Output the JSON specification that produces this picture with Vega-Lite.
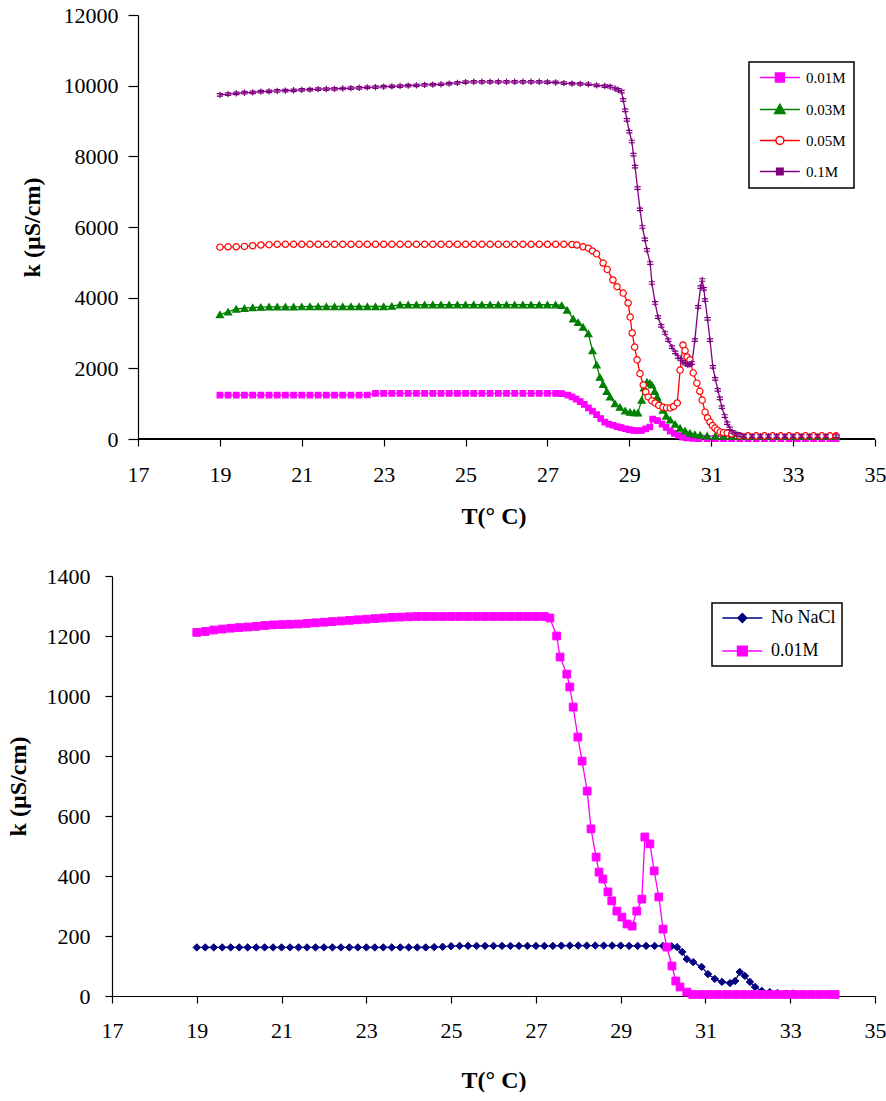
{
"$schema": "https://vega.github.io/schema/vega-lite/v6.json",
"padding": {"left": 6, "top": 4, "right": 0, "bottom": 0},
"spacing": 37,
"config": {
  "font": "Liberation Serif",
  "view": {"stroke": null},
  "axis": {"grid": false, "domainColor": "black", "tickColor": "black", "labelColor": "black", "titleColor": "black", "domainWidth": 1.2, "tickWidth": 1.2, "labelFont": "Liberation Serif", "labelFontSize": 22, "titleFont": "Liberation Serif", "titleFontSize": 24, "titleFontWeight": "bold", "labelFlush": false, "labelOverlap": false},
  "legend": {"labelFont": "Liberation Serif", "labelColor": "black"}
},
"resolve": {"scale": {"color": "independent"}, "legend": {"color": "independent"}},
"datasets": {
"top": [
{"s":"0.01M","T":19,"k":1240},{"s":"0.01M","T":19.2,"k":1240},{"s":"0.01M","T":19.4,"k":1240},{"s":"0.01M","T":19.6,"k":1240},{"s":"0.01M","T":19.8,"k":1240},{"s":"0.01M","T":20,"k":1240},{"s":"0.01M","T":20.2,"k":1240},{"s":"0.01M","T":20.4,"k":1240},{"s":"0.01M","T":20.6,"k":1240},{"s":"0.01M","T":20.8,"k":1240},{"s":"0.01M","T":21,"k":1240},{"s":"0.01M","T":21.2,"k":1240},{"s":"0.01M","T":21.4,"k":1240},{"s":"0.01M","T":21.6,"k":1240},{"s":"0.01M","T":21.8,"k":1240},{"s":"0.01M","T":22,"k":1240},{"s":"0.01M","T":22.2,"k":1240},{"s":"0.01M","T":22.4,"k":1240},{"s":"0.01M","T":22.6,"k":1245},{"s":"0.01M","T":22.8,"k":1290},{"s":"0.01M","T":23,"k":1290},{"s":"0.01M","T":23.2,"k":1290},{"s":"0.01M","T":23.4,"k":1290},{"s":"0.01M","T":23.6,"k":1290},{"s":"0.01M","T":23.8,"k":1290},{"s":"0.01M","T":24,"k":1290},{"s":"0.01M","T":24.2,"k":1290},{"s":"0.01M","T":24.4,"k":1290},{"s":"0.01M","T":24.6,"k":1290},{"s":"0.01M","T":24.8,"k":1290},{"s":"0.01M","T":25,"k":1290},{"s":"0.01M","T":25.2,"k":1290},{"s":"0.01M","T":25.4,"k":1290},{"s":"0.01M","T":25.6,"k":1290},{"s":"0.01M","T":25.8,"k":1290},{"s":"0.01M","T":26,"k":1290},{"s":"0.01M","T":26.2,"k":1290},{"s":"0.01M","T":26.4,"k":1290},{"s":"0.01M","T":26.6,"k":1290},{"s":"0.01M","T":26.8,"k":1290},{"s":"0.01M","T":27,"k":1290},{"s":"0.01M","T":27.2,"k":1290},{"s":"0.01M","T":27.35,"k":1285},{"s":"0.01M","T":27.5,"k":1240},{"s":"0.01M","T":27.6,"k":1190},{"s":"0.01M","T":27.7,"k":1130},{"s":"0.01M","T":27.8,"k":1060},{"s":"0.01M","T":27.9,"k":980},{"s":"0.01M","T":28,"k":880},{"s":"0.01M","T":28.1,"k":790},{"s":"0.01M","T":28.2,"k":690},{"s":"0.01M","T":28.3,"k":580},{"s":"0.01M","T":28.4,"k":480},{"s":"0.01M","T":28.5,"k":420},{"s":"0.01M","T":28.6,"k":390},{"s":"0.01M","T":28.7,"k":350},{"s":"0.01M","T":28.8,"k":320},{"s":"0.01M","T":28.9,"k":290},{"s":"0.01M","T":29,"k":265},{"s":"0.01M","T":29.1,"k":245},{"s":"0.01M","T":29.2,"k":235},{"s":"0.01M","T":29.3,"k":240},{"s":"0.01M","T":29.4,"k":290},{"s":"0.01M","T":29.5,"k":340},{"s":"0.01M","T":29.57,"k":560},{"s":"0.01M","T":29.69,"k":520},{"s":"0.01M","T":29.8,"k":420},{"s":"0.01M","T":29.9,"k":330},{"s":"0.01M","T":30,"k":225},{"s":"0.01M","T":30.1,"k":160},{"s":"0.01M","T":30.2,"k":100},{"s":"0.01M","T":30.3,"k":55},{"s":"0.01M","T":30.4,"k":30},{"s":"0.01M","T":30.55,"k":15},{"s":"0.01M","T":30.7,"k":10},{"s":"0.01M","T":30.9,"k":10},{"s":"0.01M","T":31.1,"k":10},{"s":"0.01M","T":31.3,"k":10},{"s":"0.01M","T":31.5,"k":10},{"s":"0.01M","T":31.7,"k":10},{"s":"0.01M","T":31.9,"k":10},{"s":"0.01M","T":32.1,"k":10},{"s":"0.01M","T":32.3,"k":10},{"s":"0.01M","T":32.5,"k":10},{"s":"0.01M","T":32.7,"k":10},{"s":"0.01M","T":32.9,"k":10},{"s":"0.01M","T":33.1,"k":10},{"s":"0.01M","T":33.3,"k":10},{"s":"0.01M","T":33.5,"k":10},{"s":"0.01M","T":33.7,"k":10},{"s":"0.01M","T":33.9,"k":10},{"s":"0.01M","T":34.05,"k":10},
{"s":"0.03M","T":19,"k":3520},{"s":"0.03M","T":19.2,"k":3600},{"s":"0.03M","T":19.4,"k":3680},{"s":"0.03M","T":19.6,"k":3700},{"s":"0.03M","T":19.8,"k":3720},{"s":"0.03M","T":20,"k":3730},{"s":"0.03M","T":20.2,"k":3740},{"s":"0.03M","T":20.4,"k":3740},{"s":"0.03M","T":20.6,"k":3740},{"s":"0.03M","T":20.8,"k":3740},{"s":"0.03M","T":21,"k":3745},{"s":"0.03M","T":21.2,"k":3750},{"s":"0.03M","T":21.4,"k":3750},{"s":"0.03M","T":21.6,"k":3750},{"s":"0.03M","T":21.8,"k":3750},{"s":"0.03M","T":22,"k":3750},{"s":"0.03M","T":22.2,"k":3750},{"s":"0.03M","T":22.4,"k":3750},{"s":"0.03M","T":22.6,"k":3750},{"s":"0.03M","T":22.8,"k":3750},{"s":"0.03M","T":23,"k":3750},{"s":"0.03M","T":23.2,"k":3760},{"s":"0.03M","T":23.4,"k":3800},{"s":"0.03M","T":23.6,"k":3800},{"s":"0.03M","T":23.8,"k":3800},{"s":"0.03M","T":24,"k":3800},{"s":"0.03M","T":24.2,"k":3800},{"s":"0.03M","T":24.4,"k":3800},{"s":"0.03M","T":24.6,"k":3800},{"s":"0.03M","T":24.8,"k":3800},{"s":"0.03M","T":25,"k":3800},{"s":"0.03M","T":25.2,"k":3800},{"s":"0.03M","T":25.4,"k":3800},{"s":"0.03M","T":25.6,"k":3800},{"s":"0.03M","T":25.8,"k":3800},{"s":"0.03M","T":26,"k":3800},{"s":"0.03M","T":26.2,"k":3800},{"s":"0.03M","T":26.4,"k":3800},{"s":"0.03M","T":26.6,"k":3800},{"s":"0.03M","T":26.8,"k":3800},{"s":"0.03M","T":27,"k":3800},{"s":"0.03M","T":27.2,"k":3800},{"s":"0.03M","T":27.35,"k":3780},{"s":"0.03M","T":27.48,"k":3650},{"s":"0.03M","T":27.63,"k":3400},{"s":"0.03M","T":27.75,"k":3300},{"s":"0.03M","T":27.87,"k":3170},{"s":"0.03M","T":28,"k":2980},{"s":"0.03M","T":28.1,"k":2500},{"s":"0.03M","T":28.2,"k":2100},{"s":"0.03M","T":28.28,"k":1750},{"s":"0.03M","T":28.36,"k":1550},{"s":"0.03M","T":28.45,"k":1350},{"s":"0.03M","T":28.53,"k":1190},{"s":"0.03M","T":28.65,"k":1000},{"s":"0.03M","T":28.77,"k":900},{"s":"0.03M","T":28.9,"k":800},{"s":"0.03M","T":29.02,"k":760},{"s":"0.03M","T":29.12,"k":750},{"s":"0.03M","T":29.21,"k":740},{"s":"0.03M","T":29.3,"k":1100},{"s":"0.03M","T":29.36,"k":1450},{"s":"0.03M","T":29.43,"k":1610},{"s":"0.03M","T":29.5,"k":1580},{"s":"0.03M","T":29.55,"k":1530},{"s":"0.03M","T":29.62,"k":1350},{"s":"0.03M","T":29.68,"k":1190},{"s":"0.03M","T":29.75,"k":1000},{"s":"0.03M","T":29.82,"k":820},{"s":"0.03M","T":29.9,"k":650},{"s":"0.03M","T":30,"k":540},{"s":"0.03M","T":30.12,"k":420},{"s":"0.03M","T":30.24,"k":310},{"s":"0.03M","T":30.36,"k":230},{"s":"0.03M","T":30.48,"k":170},{"s":"0.03M","T":30.6,"k":130},{"s":"0.03M","T":30.73,"k":110},{"s":"0.03M","T":30.9,"k":90},{"s":"0.03M","T":31.1,"k":80},{"s":"0.03M","T":31.3,"k":80},{"s":"0.03M","T":31.5,"k":80},{"s":"0.03M","T":31.7,"k":80},{"s":"0.03M","T":31.9,"k":80},{"s":"0.03M","T":32.1,"k":80},{"s":"0.03M","T":32.3,"k":80},{"s":"0.03M","T":32.5,"k":80},{"s":"0.03M","T":32.7,"k":80},{"s":"0.03M","T":32.9,"k":80},{"s":"0.03M","T":33.1,"k":80},{"s":"0.03M","T":33.3,"k":80},{"s":"0.03M","T":33.5,"k":80},{"s":"0.03M","T":33.7,"k":80},{"s":"0.03M","T":33.9,"k":80},{"s":"0.03M","T":34.05,"k":80},
{"s":"0.05M","T":19,"k":5430},{"s":"0.05M","T":19.2,"k":5440},{"s":"0.05M","T":19.4,"k":5440},{"s":"0.05M","T":19.6,"k":5450},{"s":"0.05M","T":19.8,"k":5470},{"s":"0.05M","T":20,"k":5490},{"s":"0.05M","T":20.2,"k":5500},{"s":"0.05M","T":20.4,"k":5510},{"s":"0.05M","T":20.6,"k":5510},{"s":"0.05M","T":20.8,"k":5510},{"s":"0.05M","T":21,"k":5510},{"s":"0.05M","T":21.2,"k":5510},{"s":"0.05M","T":21.4,"k":5510},{"s":"0.05M","T":21.6,"k":5510},{"s":"0.05M","T":21.8,"k":5510},{"s":"0.05M","T":22,"k":5510},{"s":"0.05M","T":22.2,"k":5510},{"s":"0.05M","T":22.4,"k":5510},{"s":"0.05M","T":22.6,"k":5510},{"s":"0.05M","T":22.8,"k":5510},{"s":"0.05M","T":23,"k":5510},{"s":"0.05M","T":23.2,"k":5510},{"s":"0.05M","T":23.4,"k":5510},{"s":"0.05M","T":23.6,"k":5510},{"s":"0.05M","T":23.8,"k":5510},{"s":"0.05M","T":24,"k":5510},{"s":"0.05M","T":24.2,"k":5510},{"s":"0.05M","T":24.4,"k":5510},{"s":"0.05M","T":24.6,"k":5510},{"s":"0.05M","T":24.8,"k":5510},{"s":"0.05M","T":25,"k":5510},{"s":"0.05M","T":25.2,"k":5510},{"s":"0.05M","T":25.4,"k":5510},{"s":"0.05M","T":25.6,"k":5510},{"s":"0.05M","T":25.8,"k":5510},{"s":"0.05M","T":26,"k":5510},{"s":"0.05M","T":26.2,"k":5510},{"s":"0.05M","T":26.4,"k":5510},{"s":"0.05M","T":26.6,"k":5510},{"s":"0.05M","T":26.8,"k":5510},{"s":"0.05M","T":27,"k":5510},{"s":"0.05M","T":27.2,"k":5510},{"s":"0.05M","T":27.4,"k":5510},{"s":"0.05M","T":27.6,"k":5505},{"s":"0.05M","T":27.72,"k":5490},{"s":"0.05M","T":27.87,"k":5440},{"s":"0.05M","T":28,"k":5400},{"s":"0.05M","T":28.1,"k":5320},{"s":"0.05M","T":28.2,"k":5240},{"s":"0.05M","T":28.36,"k":4980},{"s":"0.05M","T":28.46,"k":4800},{"s":"0.05M","T":28.6,"k":4500},{"s":"0.05M","T":28.7,"k":4310},{"s":"0.05M","T":28.85,"k":4130},{"s":"0.05M","T":28.97,"k":3850},{"s":"0.05M","T":29.02,"k":3450},{"s":"0.05M","T":29.07,"k":3000},{"s":"0.05M","T":29.13,"k":2600},{"s":"0.05M","T":29.19,"k":2240},{"s":"0.05M","T":29.26,"k":1850},{"s":"0.05M","T":29.34,"k":1530},{"s":"0.05M","T":29.4,"k":1330},{"s":"0.05M","T":29.46,"k":1190},{"s":"0.05M","T":29.55,"k":1080},{"s":"0.05M","T":29.63,"k":1020},{"s":"0.05M","T":29.72,"k":950},{"s":"0.05M","T":29.82,"k":900},{"s":"0.05M","T":29.91,"k":880},{"s":"0.05M","T":30,"k":880},{"s":"0.05M","T":30.08,"k":920},{"s":"0.05M","T":30.17,"k":1020},{"s":"0.05M","T":30.24,"k":1950},{"s":"0.05M","T":30.31,"k":2660},{"s":"0.05M","T":30.36,"k":2500},{"s":"0.05M","T":30.41,"k":2320},{"s":"0.05M","T":30.48,"k":2240},{"s":"0.05M","T":30.56,"k":1870},{"s":"0.05M","T":30.65,"k":1580},{"s":"0.05M","T":30.72,"k":1350},{"s":"0.05M","T":30.78,"k":1100},{"s":"0.05M","T":30.85,"k":760},{"s":"0.05M","T":30.91,"k":600},{"s":"0.05M","T":30.97,"k":480},{"s":"0.05M","T":31.03,"k":380},{"s":"0.05M","T":31.09,"k":310},{"s":"0.05M","T":31.15,"k":250},{"s":"0.05M","T":31.22,"k":200},{"s":"0.05M","T":31.3,"k":180},{"s":"0.05M","T":31.39,"k":170},{"s":"0.05M","T":31.5,"k":140},{"s":"0.05M","T":31.7,"k":90},{"s":"0.05M","T":31.9,"k":90},{"s":"0.05M","T":32.1,"k":90},{"s":"0.05M","T":32.3,"k":90},{"s":"0.05M","T":32.5,"k":90},{"s":"0.05M","T":32.7,"k":90},{"s":"0.05M","T":32.9,"k":90},{"s":"0.05M","T":33.1,"k":90},{"s":"0.05M","T":33.3,"k":90},{"s":"0.05M","T":33.5,"k":90},{"s":"0.05M","T":33.7,"k":90},{"s":"0.05M","T":33.9,"k":90},{"s":"0.05M","T":34.05,"k":90},
{"s":"0.1M","T":19,"k":9740},{"s":"0.1M","T":19.2,"k":9760},{"s":"0.1M","T":19.4,"k":9780},{"s":"0.1M","T":19.6,"k":9800},{"s":"0.1M","T":19.8,"k":9810},{"s":"0.1M","T":20,"k":9830},{"s":"0.1M","T":20.2,"k":9840},{"s":"0.1M","T":20.4,"k":9850},{"s":"0.1M","T":20.6,"k":9860},{"s":"0.1M","T":20.8,"k":9870},{"s":"0.1M","T":21,"k":9880},{"s":"0.1M","T":21.2,"k":9890},{"s":"0.1M","T":21.4,"k":9900},{"s":"0.1M","T":21.6,"k":9905},{"s":"0.1M","T":21.8,"k":9910},{"s":"0.1M","T":22,"k":9920},{"s":"0.1M","T":22.2,"k":9930},{"s":"0.1M","T":22.4,"k":9940},{"s":"0.1M","T":22.6,"k":9950},{"s":"0.1M","T":22.8,"k":9960},{"s":"0.1M","T":23,"k":9970},{"s":"0.1M","T":23.2,"k":9980},{"s":"0.1M","T":23.4,"k":9990},{"s":"0.1M","T":23.6,"k":10000},{"s":"0.1M","T":23.8,"k":10010},{"s":"0.1M","T":24,"k":10020},{"s":"0.1M","T":24.2,"k":10030},{"s":"0.1M","T":24.4,"k":10040},{"s":"0.1M","T":24.6,"k":10060},{"s":"0.1M","T":24.8,"k":10080},{"s":"0.1M","T":25,"k":10100},{"s":"0.1M","T":25.2,"k":10110},{"s":"0.1M","T":25.4,"k":10110},{"s":"0.1M","T":25.6,"k":10110},{"s":"0.1M","T":25.8,"k":10110},{"s":"0.1M","T":26,"k":10110},{"s":"0.1M","T":26.2,"k":10110},{"s":"0.1M","T":26.4,"k":10110},{"s":"0.1M","T":26.6,"k":10110},{"s":"0.1M","T":26.8,"k":10110},{"s":"0.1M","T":27,"k":10100},{"s":"0.1M","T":27.2,"k":10090},{"s":"0.1M","T":27.4,"k":10070},{"s":"0.1M","T":27.6,"k":10060},{"s":"0.1M","T":27.8,"k":10050},{"s":"0.1M","T":28,"k":10040},{"s":"0.1M","T":28.2,"k":10010},{"s":"0.1M","T":28.4,"k":9990},{"s":"0.1M","T":28.53,"k":9970},{"s":"0.1M","T":28.65,"k":9920},{"s":"0.1M","T":28.73,"k":9880},{"s":"0.1M","T":28.81,"k":9830},{"s":"0.1M","T":28.85,"k":9600},{"s":"0.1M","T":28.9,"k":9300},{"s":"0.1M","T":28.94,"k":9030},{"s":"0.1M","T":29,"k":8700},{"s":"0.1M","T":29.06,"k":8420},{"s":"0.1M","T":29.1,"k":8050},{"s":"0.1M","T":29.14,"k":7710},{"s":"0.1M","T":29.2,"k":7100},{"s":"0.1M","T":29.26,"k":6500},{"s":"0.1M","T":29.32,"k":6000},{"s":"0.1M","T":29.38,"k":5650},{"s":"0.1M","T":29.43,"k":5350},{"s":"0.1M","T":29.51,"k":4980},{"s":"0.1M","T":29.55,"k":4415},{"s":"0.1M","T":29.63,"k":3850},{"s":"0.1M","T":29.7,"k":3450},{"s":"0.1M","T":29.78,"k":3200},{"s":"0.1M","T":29.87,"k":3000},{"s":"0.1M","T":29.95,"k":2800},{"s":"0.1M","T":30.04,"k":2600},{"s":"0.1M","T":30.12,"k":2450},{"s":"0.1M","T":30.19,"k":2320},{"s":"0.1M","T":30.25,"k":2250},{"s":"0.1M","T":30.31,"k":2180},{"s":"0.1M","T":30.37,"k":2130},{"s":"0.1M","T":30.43,"k":2100},{"s":"0.1M","T":30.48,"k":2110},{"s":"0.1M","T":30.53,"k":2150},{"s":"0.1M","T":30.6,"k":2800},{"s":"0.1M","T":30.68,"k":3740},{"s":"0.1M","T":30.74,"k":4300},{"s":"0.1M","T":30.78,"k":4500},{"s":"0.1M","T":30.82,"k":4250},{"s":"0.1M","T":30.85,"k":3930},{"s":"0.1M","T":30.91,"k":3400},{"s":"0.1M","T":30.97,"k":2800},{"s":"0.1M","T":31.04,"k":2040},{"s":"0.1M","T":31.1,"k":1700},{"s":"0.1M","T":31.16,"k":1390},{"s":"0.1M","T":31.21,"k":1150},{"s":"0.1M","T":31.26,"k":900},{"s":"0.1M","T":31.33,"k":650},{"s":"0.1M","T":31.39,"k":450},{"s":"0.1M","T":31.45,"k":300},{"s":"0.1M","T":31.51,"k":200},{"s":"0.1M","T":31.6,"k":150},{"s":"0.1M","T":31.7,"k":110},{"s":"0.1M","T":31.8,"k":90},{"s":"0.1M","T":32,"k":80},{"s":"0.1M","T":32.2,"k":80},{"s":"0.1M","T":32.4,"k":80},{"s":"0.1M","T":32.6,"k":80},{"s":"0.1M","T":32.8,"k":80},{"s":"0.1M","T":33,"k":80},{"s":"0.1M","T":33.2,"k":80},{"s":"0.1M","T":33.4,"k":80},{"s":"0.1M","T":33.6,"k":80},{"s":"0.1M","T":33.8,"k":80},{"s":"0.1M","T":34.05,"k":80}
],
"bottom": [
{"s":"No NaCl","T":19,"k":162},{"s":"No NaCl","T":19.2,"k":162},{"s":"No NaCl","T":19.4,"k":162},{"s":"No NaCl","T":19.6,"k":162},{"s":"No NaCl","T":19.8,"k":162},{"s":"No NaCl","T":20,"k":162},{"s":"No NaCl","T":20.2,"k":162},{"s":"No NaCl","T":20.4,"k":162},{"s":"No NaCl","T":20.6,"k":162},{"s":"No NaCl","T":20.8,"k":162},{"s":"No NaCl","T":21,"k":162},{"s":"No NaCl","T":21.2,"k":162},{"s":"No NaCl","T":21.4,"k":162},{"s":"No NaCl","T":21.6,"k":162},{"s":"No NaCl","T":21.8,"k":162},{"s":"No NaCl","T":22,"k":162},{"s":"No NaCl","T":22.2,"k":162},{"s":"No NaCl","T":22.4,"k":162},{"s":"No NaCl","T":22.6,"k":162},{"s":"No NaCl","T":22.8,"k":162},{"s":"No NaCl","T":23,"k":162},{"s":"No NaCl","T":23.2,"k":162},{"s":"No NaCl","T":23.4,"k":162},{"s":"No NaCl","T":23.6,"k":162},{"s":"No NaCl","T":23.8,"k":162},{"s":"No NaCl","T":24,"k":162},{"s":"No NaCl","T":24.2,"k":162},{"s":"No NaCl","T":24.4,"k":162},{"s":"No NaCl","T":24.6,"k":163},{"s":"No NaCl","T":24.8,"k":164},{"s":"No NaCl","T":25,"k":166},{"s":"No NaCl","T":25.2,"k":167},{"s":"No NaCl","T":25.4,"k":167},{"s":"No NaCl","T":25.6,"k":167},{"s":"No NaCl","T":25.8,"k":167},{"s":"No NaCl","T":26,"k":167},{"s":"No NaCl","T":26.2,"k":167},{"s":"No NaCl","T":26.4,"k":167},{"s":"No NaCl","T":26.6,"k":167},{"s":"No NaCl","T":26.8,"k":167},{"s":"No NaCl","T":27,"k":167},{"s":"No NaCl","T":27.2,"k":167},{"s":"No NaCl","T":27.4,"k":167},{"s":"No NaCl","T":27.6,"k":168},{"s":"No NaCl","T":27.8,"k":168},{"s":"No NaCl","T":28,"k":168},{"s":"No NaCl","T":28.2,"k":168},{"s":"No NaCl","T":28.4,"k":168},{"s":"No NaCl","T":28.6,"k":168},{"s":"No NaCl","T":28.8,"k":168},{"s":"No NaCl","T":29,"k":168},{"s":"No NaCl","T":29.2,"k":167},{"s":"No NaCl","T":29.4,"k":167},{"s":"No NaCl","T":29.6,"k":167},{"s":"No NaCl","T":29.8,"k":167},{"s":"No NaCl","T":30,"k":167},{"s":"No NaCl","T":30.2,"k":166},{"s":"No NaCl","T":30.33,"k":163},{"s":"No NaCl","T":30.45,"k":147},{"s":"No NaCl","T":30.56,"k":123},{"s":"No NaCl","T":30.71,"k":113},{"s":"No NaCl","T":30.91,"k":97},{"s":"No NaCl","T":31.06,"k":73},{"s":"No NaCl","T":31.22,"k":57},{"s":"No NaCl","T":31.39,"k":47},{"s":"No NaCl","T":31.58,"k":43},{"s":"No NaCl","T":31.7,"k":50},{"s":"No NaCl","T":31.81,"k":80},{"s":"No NaCl","T":31.93,"k":67},{"s":"No NaCl","T":32.05,"k":47},{"s":"No NaCl","T":32.17,"k":30},{"s":"No NaCl","T":32.33,"k":17},{"s":"No NaCl","T":32.52,"k":13},{"s":"No NaCl","T":32.7,"k":10},{"s":"No NaCl","T":32.9,"k":8},{"s":"No NaCl","T":33.06,"k":8},
{"s":"0.01M","T":19,"k":1212},{"s":"0.01M","T":19.2,"k":1215},{"s":"0.01M","T":19.4,"k":1220},{"s":"0.01M","T":19.6,"k":1223},{"s":"0.01M","T":19.8,"k":1226},{"s":"0.01M","T":20,"k":1228},{"s":"0.01M","T":20.2,"k":1230},{"s":"0.01M","T":20.4,"k":1232},{"s":"0.01M","T":20.6,"k":1235},{"s":"0.01M","T":20.8,"k":1237},{"s":"0.01M","T":21,"k":1238},{"s":"0.01M","T":21.2,"k":1239},{"s":"0.01M","T":21.4,"k":1240},{"s":"0.01M","T":21.6,"k":1242},{"s":"0.01M","T":21.8,"k":1244},{"s":"0.01M","T":22,"k":1246},{"s":"0.01M","T":22.2,"k":1248},{"s":"0.01M","T":22.4,"k":1250},{"s":"0.01M","T":22.6,"k":1252},{"s":"0.01M","T":22.8,"k":1254},{"s":"0.01M","T":23,"k":1256},{"s":"0.01M","T":23.2,"k":1258},{"s":"0.01M","T":23.4,"k":1260},{"s":"0.01M","T":23.6,"k":1262},{"s":"0.01M","T":23.8,"k":1263},{"s":"0.01M","T":24,"k":1264},{"s":"0.01M","T":24.2,"k":1265},{"s":"0.01M","T":24.4,"k":1265},{"s":"0.01M","T":24.6,"k":1265},{"s":"0.01M","T":24.8,"k":1265},{"s":"0.01M","T":25,"k":1265},{"s":"0.01M","T":25.2,"k":1265},{"s":"0.01M","T":25.4,"k":1265},{"s":"0.01M","T":25.6,"k":1265},{"s":"0.01M","T":25.8,"k":1265},{"s":"0.01M","T":26,"k":1265},{"s":"0.01M","T":26.2,"k":1265},{"s":"0.01M","T":26.4,"k":1265},{"s":"0.01M","T":26.6,"k":1265},{"s":"0.01M","T":26.8,"k":1265},{"s":"0.01M","T":27,"k":1265},{"s":"0.01M","T":27.2,"k":1265},{"s":"0.01M","T":27.33,"k":1260},{"s":"0.01M","T":27.49,"k":1200},{"s":"0.01M","T":27.57,"k":1130},{"s":"0.01M","T":27.73,"k":1073},{"s":"0.01M","T":27.8,"k":1030},{"s":"0.01M","T":27.88,"k":963},{"s":"0.01M","T":27.99,"k":863},{"s":"0.01M","T":28.09,"k":783},{"s":"0.01M","T":28.21,"k":683},{"s":"0.01M","T":28.3,"k":557},{"s":"0.01M","T":28.42,"k":463},{"s":"0.01M","T":28.49,"k":413},{"s":"0.01M","T":28.58,"k":390},{"s":"0.01M","T":28.7,"k":347},{"s":"0.01M","T":28.79,"k":317},{"s":"0.01M","T":28.91,"k":283},{"s":"0.01M","T":29.03,"k":263},{"s":"0.01M","T":29.15,"k":240},{"s":"0.01M","T":29.27,"k":233},{"s":"0.01M","T":29.38,"k":283},{"s":"0.01M","T":29.5,"k":323},{"s":"0.01M","T":29.57,"k":530},{"s":"0.01M","T":29.69,"k":507},{"s":"0.01M","T":29.79,"k":417},{"s":"0.01M","T":29.9,"k":330},{"s":"0.01M","T":30,"k":223},{"s":"0.01M","T":30.09,"k":163},{"s":"0.01M","T":30.21,"k":100},{"s":"0.01M","T":30.3,"k":50},{"s":"0.01M","T":30.4,"k":30},{"s":"0.01M","T":30.56,"k":13},{"s":"0.01M","T":30.7,"k":5},{"s":"0.01M","T":30.9,"k":5},{"s":"0.01M","T":31.1,"k":5},{"s":"0.01M","T":31.3,"k":5},{"s":"0.01M","T":31.5,"k":5},{"s":"0.01M","T":31.7,"k":5},{"s":"0.01M","T":31.9,"k":5},{"s":"0.01M","T":32.1,"k":5},{"s":"0.01M","T":32.3,"k":5},{"s":"0.01M","T":32.5,"k":5},{"s":"0.01M","T":32.7,"k":5},{"s":"0.01M","T":32.9,"k":5},{"s":"0.01M","T":33.1,"k":5},{"s":"0.01M","T":33.3,"k":5},{"s":"0.01M","T":33.5,"k":5},{"s":"0.01M","T":33.7,"k":5},{"s":"0.01M","T":33.9,"k":5},{"s":"0.01M","T":34.06,"k":5}
]
},
"vconcat": [
{
  "width": 763, "height": 424,
  "data": {"name": "top"},
  "encoding": {
    "x": {"field": "T", "type": "quantitative", "scale": {"domain": [16.365, 35], "nice": false, "zero": false},
      "axis": {"title": "T(° C)", "domain": false, "values": [17,19,21,23,25,27,29,31,33,35], "tickSize": 7, "labelPadding": 18, "titlePadding": 19}},
    "y": {"field": "k", "type": "quantitative", "scale": {"domain": [0, 12000], "nice": false},
      "axis": {"title": "k (µS/cm)", "format": "d", "offset": -26, "values": [0,2000,4000,6000,8000,10000,12000], "tickSize": 10, "labelPadding": 10, "titlePadding": 19}}
  },
  "layer": [
    {
      "mark": {"type": "rule", "color": "black", "strokeWidth": 1.2},
      "encoding": {"x": {"datum": 17}, "x2": {"datum": 35}, "y": {"datum": 0}}
    },
    {
      "mark": {"type": "line", "strokeWidth": 1.3},
      "encoding": {
        "color": {"field": "s", "type": "nominal",
          "scale": {"domain": ["0.01M","0.03M","0.05M","0.1M"], "range": ["#ff00ff","#008000","#ff0000","#800080"]},
          "legend": {"title": null, "orient": "none", "legendX": 637, "legendY": 47, "strokeColor": "black", "padding": 8, "symbolSize": 64, "symbolStrokeWidth": 1.5, "labelFontSize": 15, "labelOffset": 34, "rowPadding": 15,
            "encode": {
              "legend": {"update": {"strokeWidth": {"value": 1.5}}},
              "symbols": {"update": {
                "shape": {"signal": "datum.value==='0.01M'?'M-1.16,0H8.84M2.74,-1.1H4.94V1.1H2.74Z':datum.value==='0.03M'?'M-1.16,0H8.84M3.84,-1.3L5.14,1L2.54,1Z':datum.value==='0.05M'?'M-1.16,0H2.84M4.84,0H8.84M4.84,0A1,1 0 1,1 2.84,0A1,1 0 1,1 4.84,0Z':'M-1.16,0H8.84M3.04,-0.8H4.64V0.8H3.04Z'"},
                "fill": {"signal": "datum.value==='0.01M'?'#ff00ff':datum.value==='0.03M'?'#008000':datum.value==='0.05M'?'#ffffff':'#800080'"},
                "stroke": {"signal": "datum.value==='0.01M'?'#ff00ff':datum.value==='0.03M'?'#008000':datum.value==='0.05M'?'#ff0000':'#800080'"},
                "opacity": {"value": 1}
              }}
            }}
        }
      }
    },
    {
      "mark": {"type": "point", "opacity": 1, "strokeWidth": 1.2},
      "encoding": {
        "shape": {"condition": [{"test": "datum.s==='0.01M'", "value": "square"}, {"test": "datum.s==='0.03M'", "value": "triangle-up"}, {"test": "datum.s==='0.05M'", "value": "circle"}], "value": "M0,-1V1M-1,-0.4H1M-1,0.4H1"},
        "fill": {"condition": [{"test": "datum.s==='0.01M'", "value": "#ff00ff"}, {"test": "datum.s==='0.03M'", "value": "#008000"}, {"test": "datum.s==='0.05M'", "value": "#ffffff"}], "value": "#800080"},
        "stroke": {"condition": [{"test": "datum.s==='0.01M'", "value": "#ff00ff"}, {"test": "datum.s==='0.03M'", "value": "#008000"}, {"test": "datum.s==='0.05M'", "value": "#ff0000"}], "value": "#800080"},
        "size": {"condition": [{"test": "datum.s==='0.01M'", "value": 30}, {"test": "datum.s==='0.03M'", "value": 50}], "value": 40}
      }
    }
  ]
},
{
  "width": 763, "height": 420,
  "data": {"name": "bottom"},
  "encoding": {
    "x": {"field": "T", "type": "quantitative", "scale": {"domain": [17, 35], "nice": false, "zero": false},
      "axis": {"title": "T(° C)", "values": [17,19,21,23,25,27,29,31,33,35], "tickSize": 7, "labelPadding": 17, "titlePadding": 27}},
    "y": {"field": "k", "type": "quantitative", "scale": {"domain": [0, 1400], "nice": false},
      "axis": {"title": "k (µS/cm)", "format": "d", "values": [0,200,400,600,800,1000,1200,1400], "tickSize": 7, "labelPadding": 15, "titlePadding": 16}}
  },
  "layer": [
    {
      "mark": {"type": "line", "strokeWidth": 1.3},
      "encoding": {
        "color": {"field": "s", "type": "nominal",
          "scale": {"domain": ["No NaCl","0.01M"], "range": ["#000080","#ff00ff"]},
          "legend": {"title": null, "orient": "none", "legendX": 600, "legendY": 27, "strokeColor": "black", "padding": 6, "symbolSize": 64, "symbolStrokeWidth": 1.5, "labelFontSize": 18, "labelOffset": 35, "rowPadding": 15,
            "encode": {
              "legend": {"update": {"strokeWidth": {"value": 1.5}}},
              "symbols": {"update": {
                "shape": {"signal": "datum.value==='0.01M'?'M-1.16,0H8.84M2.64,-1.2H5.04V1.2H2.64Z':'M-1.16,0H8.84M3.84,-1.1L4.94,0L3.84,1.1L2.74,0Z'"},
                "fill": {"signal": "datum.value==='0.01M'?'#ff00ff':'#000080'"},
                "stroke": {"signal": "datum.value==='0.01M'?'#ff00ff':'#000080'"},
                "opacity": {"value": 1}
              }}
            }}
        }
      }
    },
    {
      "mark": {"type": "point", "opacity": 1, "strokeWidth": 1},
      "encoding": {
        "shape": {"condition": [{"test": "datum.s==='0.01M'", "value": "square"}], "value": "diamond"},
        "fill": {"condition": [{"test": "datum.s==='0.01M'", "value": "#ff00ff"}], "value": "#000080"},
        "stroke": {"condition": [{"test": "datum.s==='0.01M'", "value": "#ff00ff"}], "value": "#000080"},
        "size": {"condition": [{"test": "datum.s==='0.01M'", "value": 60}], "value": 55}
      }
    }
  ]
}
]
}
